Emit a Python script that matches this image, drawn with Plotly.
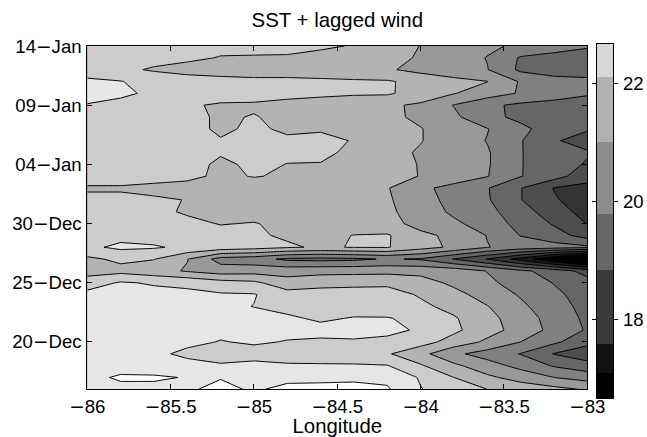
import plotly.graph_objects as go

# ---------------- data ----------------
lon = [-86.0, -85.8, -85.6, -85.4, -85.2, -85.0, -84.8, -84.6,
       -84.4, -84.2, -84.0, -83.8, -83.6, -83.4, -83.2, -83.0]

dates = ['2003-12-16', '2003-12-17', '2003-12-18', '2003-12-19', '2003-12-20',
         '2003-12-21', '2003-12-22', '2003-12-23', '2003-12-24', '2003-12-25',
         '2003-12-26', '2003-12-27', '2003-12-28', '2003-12-29', '2003-12-30',
         '2003-12-31', '2004-01-01', '2004-01-02', '2004-01-03', '2004-01-04',
         '2004-01-05', '2004-01-06', '2004-01-07', '2004-01-08', '2004-01-09',
         '2004-01-10', '2004-01-11', '2004-01-12', '2004-01-13', '2004-01-14']

# SST (deg C), one row per date (16-Dec first), one column per longitude
sst = [
    [22.45, 22.40, 22.40, 22.45, 22.60, 22.45, 22.60, 22.62, 22.66, 22.55, 22.02, 21.75, 21.50, 21.30, 21.15, 20.95],
    [22.40, 22.55, 22.55, 22.48, 22.48, 22.35, 22.40, 22.40, 22.40, 22.40, 21.95, 21.50, 21.10, 20.80, 20.50, 20.30],
    [22.35, 22.35, 22.30, 22.15, 22.05, 22.10, 22.05, 22.05, 22.05, 22.02, 21.55, 21.10, 20.70, 20.35, 19.95, 19.70],
    [22.30, 22.25, 22.10, 21.90, 21.80, 21.85, 21.80, 21.75, 21.70, 21.55, 21.15, 20.60, 20.30, 19.98, 19.48, 19.20],
    [22.30, 22.25, 22.20, 22.10, 21.98, 22.05, 21.98, 21.95, 21.95, 21.90, 21.70, 21.30, 20.90, 20.50, 20.10, 19.65],
    [22.20, 22.20, 22.20, 22.15, 22.10, 22.15, 22.10, 22.10, 22.15, 22.10, 21.95, 21.60, 21.20, 20.80, 20.35, 19.95],
    [22.20, 22.20, 22.20, 22.20, 22.15, 22.15, 22.05, 21.95, 22.02, 22.02, 21.90, 21.55, 21.15, 20.75, 20.30, 19.90],
    [22.20, 22.20, 22.20, 22.20, 22.10, 21.99, 21.90, 21.80, 21.85, 21.80, 21.60, 21.35, 21.02, 20.60, 20.20, 19.85],
    [22.15, 22.20, 22.15, 22.10, 22.05, 22.03, 21.70, 21.75, 21.75, 21.70, 21.45, 21.15, 20.80, 20.45, 20.10, 19.80],
    [21.75, 22.05, 21.95, 21.90, 21.70, 21.60, 21.20, 21.30, 21.35, 21.40, 21.20, 20.90, 20.60, 20.30, 19.98, 19.70],
    [21.30, 21.35, 21.20, 20.95, 20.75, 20.80, 20.80, 20.85, 20.85, 20.85, 20.85, 20.80, 20.48, 20.10, 19.80, 19.30],
    [21.40, 21.60, 21.52, 21.02, 20.30, 20.20, 19.90, 19.85, 19.90, 20.05, 19.95, 19.48, 18.98, 18.30, 17.48, 16.68],
    [21.90, 22.10, 22.05, 21.90, 21.80, 21.70, 21.55, 21.45, 21.52, 21.53, 21.20, 20.90, 20.52, 20.30, 20.20, 20.10],
    [21.85, 21.85, 21.80, 21.70, 21.65, 21.55, 21.45, 21.40, 21.51, 21.55, 21.10, 20.90, 20.48, 19.98, 19.70, 19.30],
    [21.80, 21.80, 21.75, 21.60, 21.48, 21.52, 21.40, 21.35, 21.30, 21.15, 20.85, 20.60, 20.25, 19.85, 19.45, 18.98],
    [21.75, 21.70, 21.60, 21.45, 21.40, 21.35, 21.35, 21.30, 21.30, 21.08, 20.80, 20.40, 20.15, 19.70, 19.25, 18.80],
    [21.60, 21.60, 21.55, 21.49, 21.40, 21.35, 21.30, 21.25, 21.20, 21.05, 20.75, 20.30, 20.05, 19.52, 19.05, 18.75],
    [21.45, 21.45, 21.40, 21.35, 21.30, 21.30, 21.25, 21.20, 21.15, 21.03, 20.60, 20.35, 20.03, 19.52, 18.98, 18.85],
    [21.70, 21.70, 21.65, 21.60, 21.42, 21.52, 21.45, 21.40, 21.35, 21.20, 20.98, 20.75, 20.52, 20.02, 19.70, 19.20],
    [21.80, 21.80, 21.75, 21.70, 21.40, 21.60, 21.49, 21.49, 21.40, 21.15, 20.98, 20.75, 20.55, 20.02, 19.75, 19.45],
    [21.85, 21.85, 21.80, 21.75, 21.55, 21.60, 21.60, 21.55, 21.45, 21.15, 20.95, 20.75, 20.55, 20.02, 19.75, 19.55],
    [21.90, 21.85, 21.80, 21.75, 21.52, 21.60, 21.55, 21.55, 21.49, 21.30, 21.02, 20.75, 20.48, 20.03, 19.55, 19.30],
    [21.95, 21.90, 21.80, 21.60, 21.45, 21.55, 21.45, 21.48, 21.40, 21.20, 21.02, 20.75, 20.52, 20.10, 19.80, 19.55],
    [21.95, 21.90, 21.80, 21.60, 21.45, 21.52, 21.40, 21.40, 21.30, 21.12, 20.90, 20.60, 20.12, 19.90, 19.80, 19.70],
    [21.97, 21.85, 21.75, 21.55, 21.45, 21.45, 21.40, 21.35, 21.25, 21.08, 20.92, 20.48, 20.10, 19.90, 19.85, 19.80],
    [22.20, 22.10, 21.90, 21.75, 21.70, 21.65, 21.60, 21.57, 21.55, 21.56, 21.30, 21.02, 20.75, 20.45, 20.20, 20.05],
    [22.10, 22.02, 21.80, 21.70, 21.65, 21.60, 21.60, 21.57, 21.56, 21.55, 21.35, 21.15, 21.01, 20.45, 20.20, 20.10],
    [21.75, 21.60, 21.45, 21.35, 21.30, 21.30, 21.30, 21.30, 21.20, 21.06, 20.85, 20.70, 20.52, 19.90, 19.75, 19.80],
    [21.80, 21.75, 21.65, 21.58, 21.48, 21.47, 21.47, 21.40, 21.30, 21.15, 20.95, 20.75, 20.48, 19.95, 19.85, 19.80],
    [21.70, 21.70, 21.70, 21.65, 21.60, 21.60, 21.58, 21.55, 21.48, 21.20, 20.99, 20.80, 20.60, 20.40, 20.20, 20.05],
]

# contour levels and the gray of each band (band below first level first)
level_start, level_end, level_step = 17.0, 22.5, 0.5
band_colors = ['#000000', '#000000', '#000000', '#1a1a1a', '#333333', '#4d4d4d', '#666666',
               '#808080', '#999999', '#b3b3b3', '#cccccc', '#e6e6e6', '#ffffff']

# colour bar blocks as drawn in the reference (edges and grays)
cbar_edges = [16.68, 17.10, 17.60, 18.84, 19.78, 21.00, 22.10, 22.66]
cbar_colors = ['#000000', '#111111', '#3a3a3a', '#666666', '#8c8c8c', '#b0b0b0', '#d7d7d7']
cbar_ticks = [18, 20, 22]

DASH = '<span style="font-family:DejaVu Sans">\u2212</span>'
xtick_vals = [-86, -85.5, -85, -84.5, -84, -83.5, -83]
xtick_text = [DASH + '86', DASH + '85.5', DASH + '85', DASH + '84.5',
              DASH + '84', DASH + '83.5', DASH + '83']
ytick_vals = ['2003-12-20', '2003-12-25', '2003-12-30', '2004-01-04', '2004-01-09', '2004-01-14']
ytick_text = ['20' + DASH + 'Dec', '25' + DASH + 'Dec', '30' + DASH + 'Dec',
              '04' + DASH + 'Jan', '09' + DASH + 'Jan', '14' + DASH + 'Jan']

# ---------------- build stepwise colour scales ----------------
n = len(band_colors)
cs_main = []
for k, c in enumerate(band_colors):
    lo = max(0.0, (k - 0.5) / (n - 1))
    hi = min(1.0, (k + 0.5) / (n - 1))
    cs_main.append([lo, c])
    cs_main.append([hi, c])
for k in range(1, len(cs_main)):
    if cs_main[k][0] <= cs_main[k - 1][0]:
        cs_main[k][0] = cs_main[k - 1][0] + 1e-6
cs_main[-1][0] = 1.0

m = len(cbar_colors)
cs_bar = []
for k, c in enumerate(cbar_colors):
    cs_bar.append([k / m, c])
    cs_bar.append([(k + 1) / m - (1e-6 if k < m - 1 else 0), c])
cs_bar[-1][0] = 1.0

FONT = 'Liberation Sans, Arial, Helvetica, sans-serif'
FS = 18.6
FS_T = 20.4

fig = go.Figure()
fig.add_trace(go.Contour(
    x=lon, y=dates, z=sst,
    autocontour=False,
    contours=dict(start=level_start, end=level_end, size=level_step,
                  coloring='fill', showlines=True),
    line=dict(color='black', width=1, smoothing=0),
    colorscale=cs_main, showscale=False,
    xaxis='x', yaxis='y',
))

fig.add_trace(go.Heatmap(
    x=[0], y=cbar_edges,
    z=[[k + 0.5] for k in range(m)],
    zmin=0, zmax=m,
    colorscale=cs_bar, showscale=False,
    xaxis='x2', yaxis='y2',
))

W, H = 647, 437
px0, px1 = 87.3, 587.3
py0, py1 = 46.0, 389.3
cb0, cb1 = 597.0, 613.3
cby0, cby1 = 44.0, 398.0

fig.update_layout(
    width=W, height=H,
    margin=dict(l=0, r=0, t=0, b=0, autoexpand=False),
    paper_bgcolor='white', plot_bgcolor='white',
    font=dict(family=FONT, size=FS, color='black'),
    showlegend=False,
    title=dict(text='SST + lagged wind', x=(px0 + px1) / 2 / W, xanchor='center',
               y=1 - 20 / H, yanchor='middle', automargin=False,
               font=dict(size=FS_T, family=FONT, color='black')),
    xaxis=dict(domain=[px0 / W, px1 / W], range=[-86, -83],
               tickvals=xtick_vals, ticktext=xtick_text,
               ticks='inside', ticklen=5, tickcolor='black', tickwidth=1,
               showline=True, linecolor='black', linewidth=1, mirror='allticks',
               showgrid=False, zeroline=False, automargin=False,
               title=dict(text='Longitude', standoff=2, font=dict(size=FS_T)),
               anchor='y'),
    yaxis=dict(domain=[1 - py1 / H, 1 - py0 / H], type='date',
               range=['2003-12-16', '2004-01-14'],
               tickvals=ytick_vals, ticktext=ytick_text,
               ticks='inside', ticklen=5, tickcolor='black', tickwidth=1,
               showline=True, linecolor='black', linewidth=1, mirror='allticks',
               showgrid=False, zeroline=False, automargin=False,
               ticklabelstandoff=1, anchor='x'),
    xaxis2=dict(domain=[cb0 / W, cb1 / W], range=[-0.5, 0.5],
                showticklabels=False, ticks='', showgrid=False, zeroline=False,
                showline=True, linecolor='black', linewidth=1, mirror=True,
                automargin=False, anchor='y2'),
    yaxis2=dict(domain=[1 - cby1 / H, 1 - cby0 / H], range=[cbar_edges[0], cbar_edges[-1]],
                side='right', tickvals=cbar_ticks,
                ticks='outside', ticklen=4, tickcolor='black', tickwidth=1,
                showline=True, linecolor='black', linewidth=1, mirror='allticks',
                showgrid=False, zeroline=False, automargin=False,
                ticklabelstandoff=1, anchor='x2'),
)

fig.write_html('out.html')
